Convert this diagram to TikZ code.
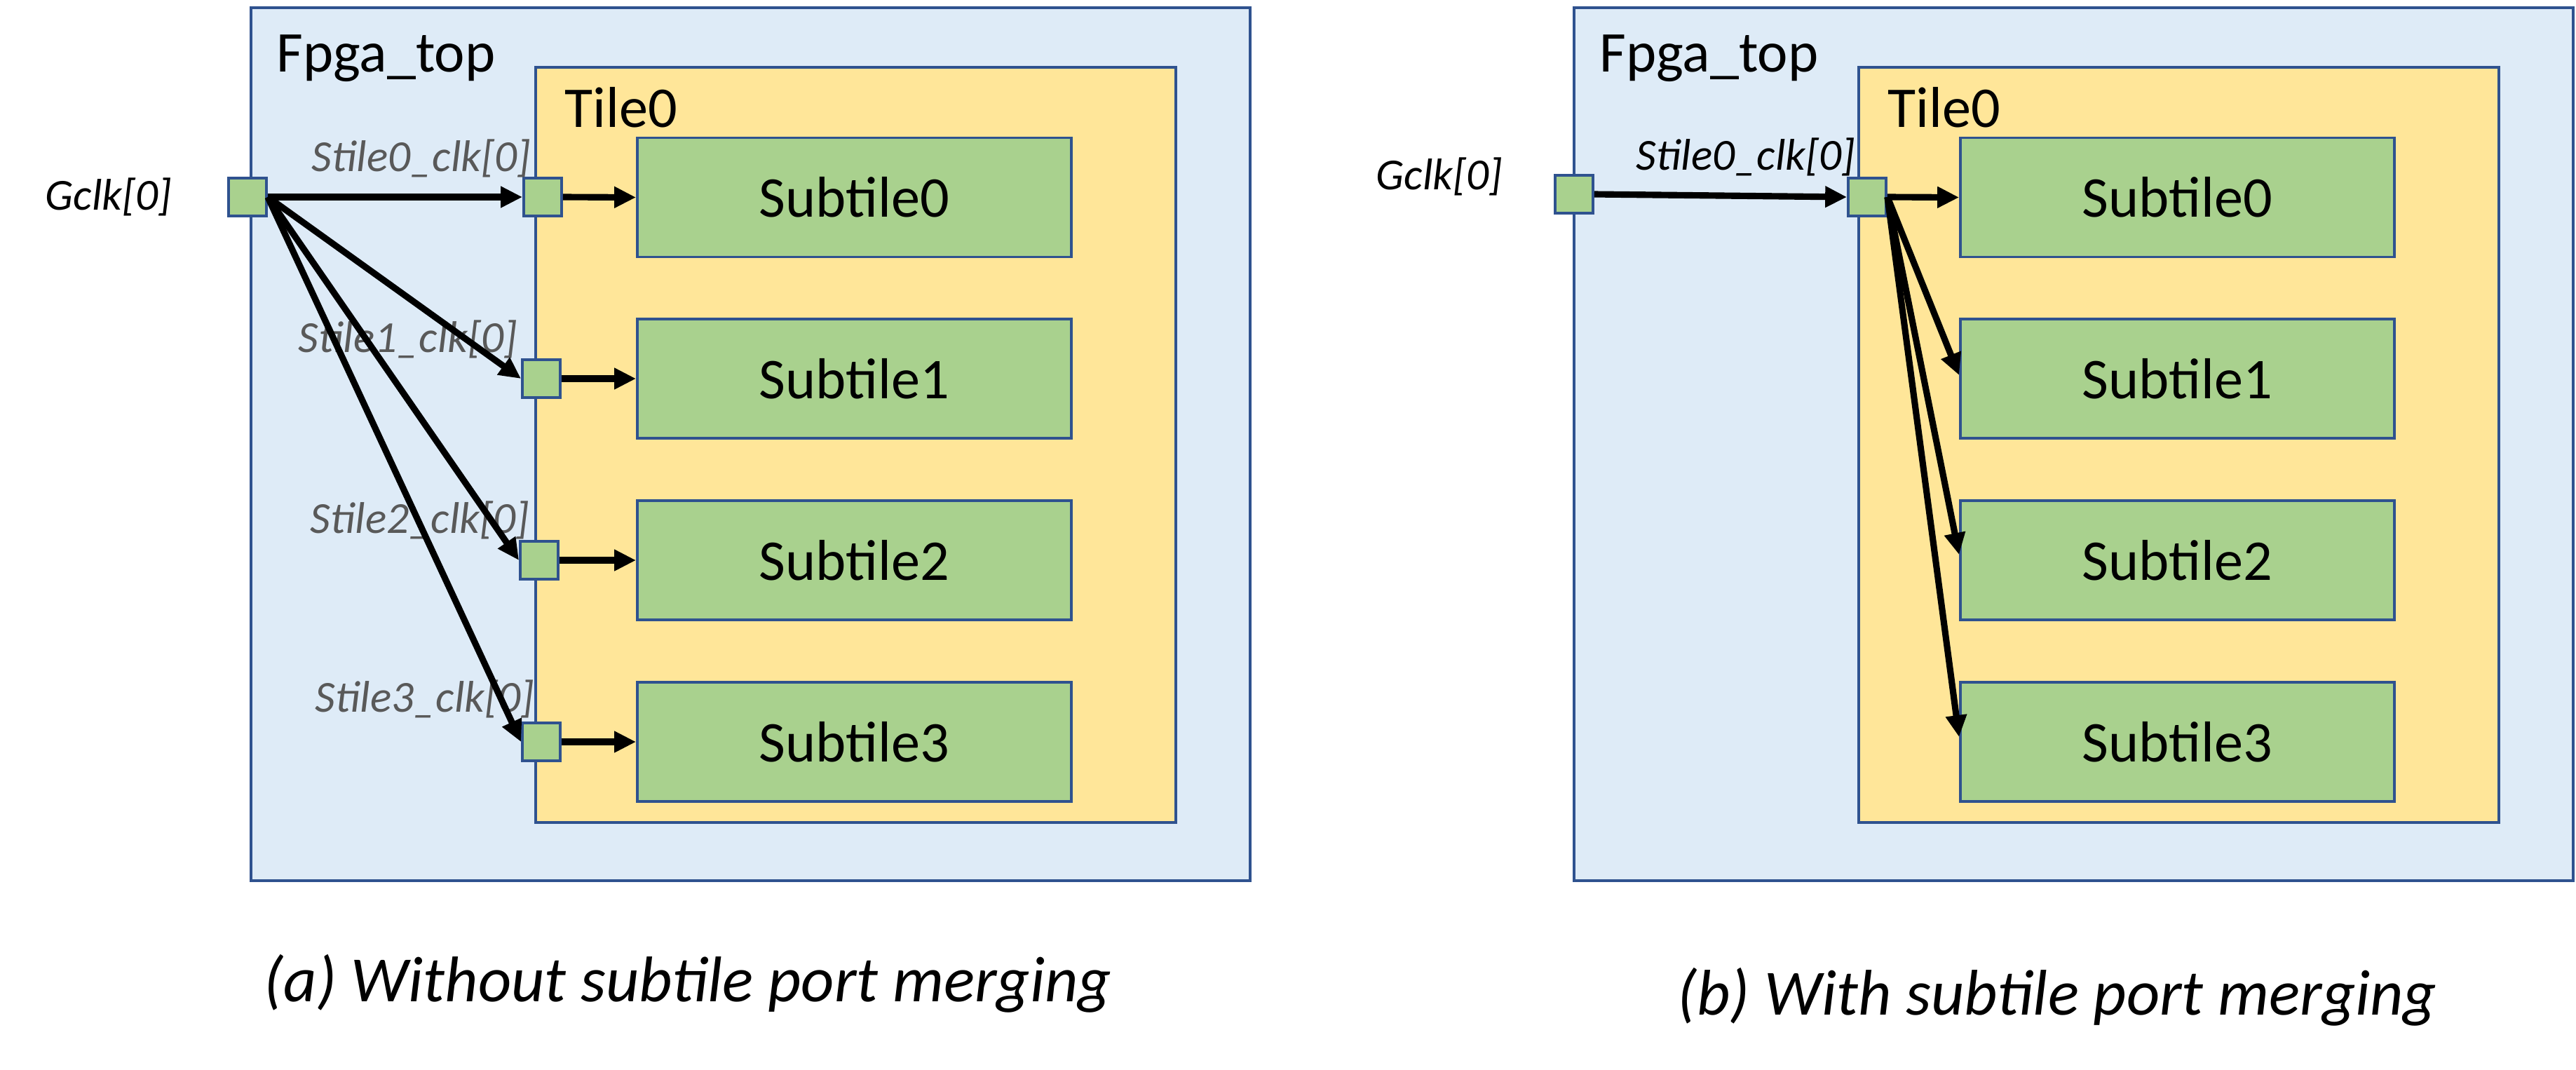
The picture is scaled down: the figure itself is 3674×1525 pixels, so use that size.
\documentclass[tikz,border=0pt]{standalone}
\usepackage{fontspec}
\setmainfont{Carlito}
\usepackage{xcolor}
\usetikzlibrary{
    arrows.meta,
    calc,
    positioning
}
\definecolor{bordblue}{HTML}{2F528F}
\definecolor{fpgablue}{HTML}{DEEBF7}
\definecolor{tileyellow}{HTML}{FFE699}
\definecolor{subgreen}{HTML}{A9D18E}
\definecolor{lblgray}{HTML}{595959}

\begin{document}
\begin{tikzpicture}[x=0.1mm, y=-0.1mm,
    box/.style={draw=bordblue, line width=1.1pt, inner sep=0pt},
    fpgabox/.style={box, fill=fpgablue, minimum width=142.5mm, minimum height=124.5mm},
    tilebox/.style={box, fill=tileyellow, minimum width=91.3mm, minimum height=107.7mm},
    subbox/.style={box, fill=subgreen, minimum width=61.9mm, minimum height=17.0mm, font=\fontsize{23.4}{28}\selectfont},
    port/.style={box, fill=subgreen, minimum size=5.4mm},
    title/.style={inner sep=0pt, anchor=base west, font=\fontsize{23.4}{28}\selectfont},
    pname/.style={inner sep=0pt, font=\fontsize{18}{22}\selectfont\itshape},
    caption/.style={inner sep=0pt, font=\fontsize{26.2}{31}\selectfont\itshape},
    wire/.style={line width=2.6pt, -{Triangle[length=8.8pt, width=8.2pt]}}]
                        \useasboundingbox (0, 0) rectangle (3674, 1525);

                        \node[fpgabox] (fa) at (1070.5, 633.5) {};
                        \node[title] (fat) at (394, 102) {Fpga\_top};
                        \node[tilebox] (ta) at (1220.5, 634.5) {};
                        \node[title] (tat) at (805, 181) {Tile0};
                        \node[subbox] (sa0) at (1218.5, 281.5) {Subtile0};
                        \node[subbox] (sa1) at (1218.5, 540) {Subtile1};
                        \node[subbox] (sa2) at (1218.5, 799) {Subtile2};
                        \node[subbox] (sa3) at (1218.5, 1058) {Subtile3};
                        \node[port] (ga) at (353, 281) {};
                        \node[port] (pa0) at (774, 281) {};
                        \node[port] (pa1) at (772, 540) {};
                        \node[port] (pa2) at (769, 799) {};
                        \node[port] (pa3) at (772, 1058) {};
                        \node[pname] (gal) at (155, 281) {Gclk[0]};
                        \node[pname, lblgray] (pal0) at (601, 226) {Stile0\_clk[0]};
                        \node[pname, lblgray] (pal1) at (582, 484) {Stile1\_clk[0]};
                        \node[pname, lblgray] (pal2) at (599, 742) {Stile2\_clk[0]};
                        \node[pname, lblgray] (pal3) at (606, 997) {Stile3\_clk[0]};
                        \node[caption] (capa) at (981, 1403) {(a) Without subtile port merging};

                        \draw
                        (ga.east) edge[wire] (pa0.west)
                        (ga.east) edge[wire] (pa1.west)
                        (ga.east) edge[wire] (pa2.west)
                        (ga.east) edge[wire] (pa3.west)
                        (pa0.east) edge[wire] (sa0.west)
                        (pa1.east) edge[wire] (sa1.west)
                        (pa2.east) edge[wire] (sa2.west)
                        (pa3.east) edge[wire] (sa3.west);

                        \node[fpgabox] (fb) at (2957.5, 633.5) {};
                        \node[title] (fbt) at (2281, 102) {Fpga\_top};
                        \node[tilebox] (tb) at (3107.5, 634.5) {};
                        \node[title] (tbt) at (2692, 181) {Tile0};
                        \node[subbox] (sb0) at (3105.5, 281.5) {Subtile0};
                        \node[subbox] (sb1) at (3105.5, 540) {Subtile1};
                        \node[subbox] (sb2) at (3105.5, 799) {Subtile2};
                        \node[subbox] (sb3) at (3105.5, 1058) {Subtile3};
                        \node[port] (gb) at (2245, 277) {};
                        \node[port] (pb0) at (2663, 281) {};
                        \node[pname] (gbl) at (2053, 252) {Gclk[0]};
                        \node[pname] (pbl0) at (2490, 224) {Stile0\_clk[0]};
                        \node[caption] (capb) at (2934, 1422) {(b) With subtile port merging};

                        \draw
                        (gb.east) edge[wire] (pb0.west)
                        (pb0.east) edge[wire] (sb0.west)
                        (pb0.east) edge[wire] ([yshift=0.5mm]sb1.west)
                        (pb0.east) edge[wire] ([yshift=0.8mm]sb2.west)
                        (pb0.east) edge[wire] ([yshift=0.7mm]sb3.west);
                    \end{tikzpicture}
\end{document}
